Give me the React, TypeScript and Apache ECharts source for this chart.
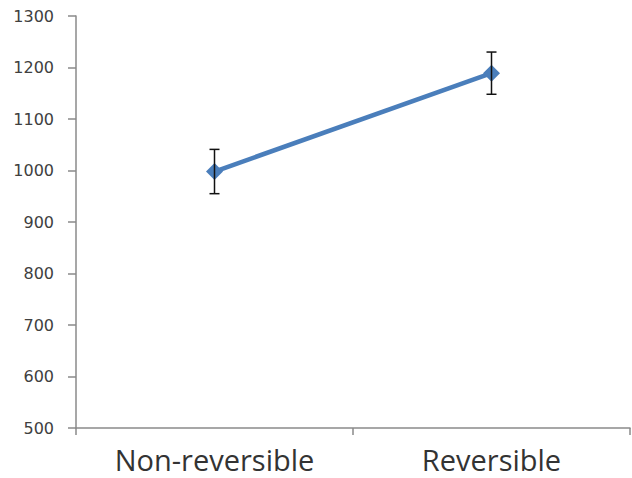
import React, { useEffect, useRef } from "react";
import * as echarts from "echarts";

const categories = ["Non-reversible", "Reversible"];
const means = [998, 1189];
const errors = [43, 41];
const yTicks = { min: 500, max: 1300, interval: 100 };

export default function App() {
  const ref = useRef<HTMLDivElement>(null);
  useEffect(() => {
    const chart = echarts.init(ref.current!, null, { renderer: "svg" });
    const errData = categories.map((c, i) => [i, means[i] - errors[i], means[i] + errors[i]]);
    chart.setOption({
      animation: false,
      backgroundColor: "#ffffff",
      grid: { left: 76, right: 2, top: 16, bottom: 50, containLabel: false },
      xAxis: {
        type: "category",
        data: categories,
        boundaryGap: true,
        axisLine: { lineStyle: { color: "#8a8a8a", width: 1.5 } },
        axisTick: { show: true, length: 7, lineStyle: { color: "#8a8a8a", width: 1.5 } },
        axisLabel: { color: "#333333", fontSize: 29, lineHeight: 30, fontFamily: "Open Sans", margin: 16 },
      },
      yAxis: {
        type: "value",
        min: yTicks.min,
        max: yTicks.max,
        interval: yTicks.interval,
        axisLine: { show: true, lineStyle: { color: "#8a8a8a", width: 1.5 } },
        axisTick: { show: true, length: 8, lineStyle: { color: "#8a8a8a", width: 1.5 } },
        splitLine: { show: false },
        axisLabel: {
          color: "#404040",
          fontSize: 16,
          fontFamily: "DejaVu Sans",
          margin: 22,
          formatter: (v: number) => String(v),
        },
      },
      series: [
        {
          type: "line",
          data: means,
          symbol: "diamond",
          symbolSize: 17,
          lineStyle: { color: "#4a7ebb", width: 4.5 },
          itemStyle: { color: "#4a7ebb" },
          z: 2,
        },
        {
          type: "custom",
          data: errData,
          z: 3,
          renderItem: (params: any, api: any) => {
            const x = api.value(0);
            const lo = api.coord([x, api.value(1)]);
            const hi = api.coord([x, api.value(2)]);
            const hw = 5;
            const st = { stroke: "#111111", lineWidth: 1.5 };
            return {
              type: "group",
              children: [
                { type: "line", shape: { x1: hi[0], y1: hi[1], x2: lo[0], y2: lo[1] }, style: st },
                { type: "line", shape: { x1: hi[0] - hw, y1: hi[1], x2: hi[0] + hw, y2: hi[1] }, style: st },
                { type: "line", shape: { x1: lo[0] - hw, y1: lo[1], x2: lo[0] + hw, y2: lo[1] }, style: st },
              ],
            };
          },
        },
      ],
    });
    return () => chart.dispose();
  }, []);
  return <div ref={ref} style={{ position: "fixed", left: 0, top: 0, width: 632, height: 478 }} />;
}
